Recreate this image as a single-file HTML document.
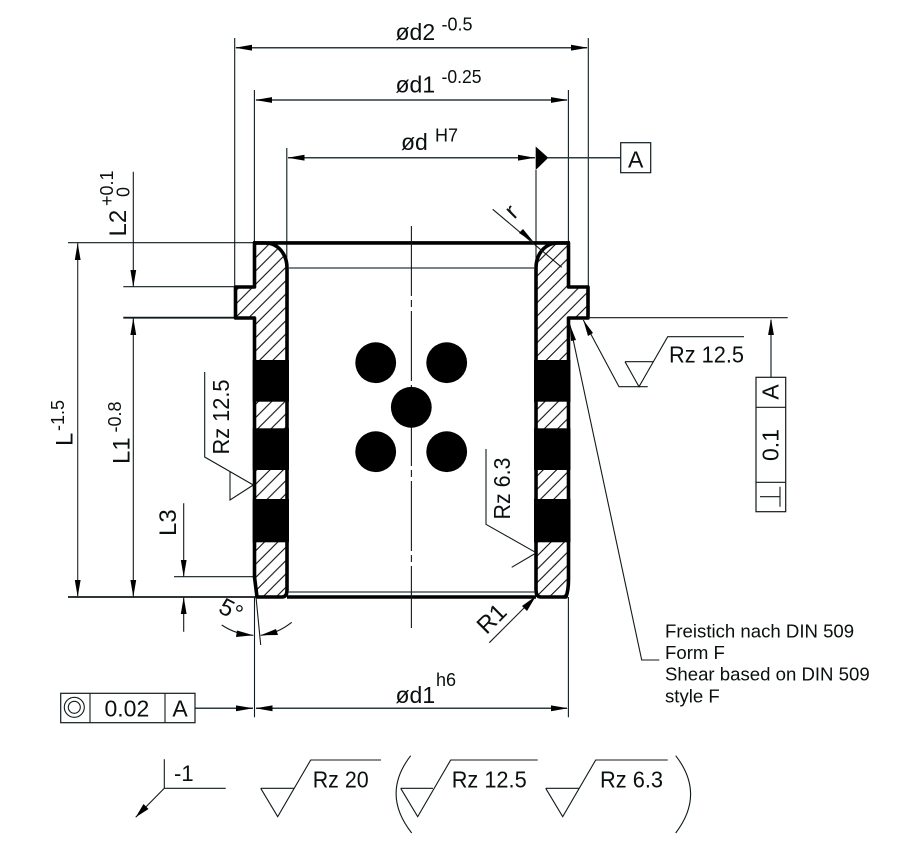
<!DOCTYPE html>
<html><head><meta charset="utf-8"><style>
html,body{margin:0;padding:0;background:#fff;width:906px;height:853px;overflow:hidden}
svg{display:block}
text{font-family:"Liberation Sans",sans-serif;font-size:23px;fill:#0a0f10}
.s{font-size:18px}
.b{font-size:24px}
.t{font-size:18.6px}
.l{stroke:#101a1c;stroke-width:1.1;fill:none}
.d{stroke:#2b3b40;stroke-width:1.5;fill:none}
.h{stroke:#000;stroke-width:3.6;fill:none;stroke-linejoin:round}
.a{fill:#000;stroke:none}
</style></head><body>
<svg width="906" height="853" viewBox="0 0 906 853" xmlns="http://www.w3.org/2000/svg">
<defs>
<pattern id="hl" patternUnits="userSpaceOnUse" width="13.33" height="13.33" patternTransform="translate(6.67,0)"><path d="M-1 14.33L14.33 -1M-1 1L1 -1M12.33 14.33L14.33 12.33" stroke="#000" stroke-width="1"/></pattern>
<pattern id="hr" patternUnits="userSpaceOnUse" width="13.33" height="13.33"><path d="M-1 14.33L14.33 -1M-1 1L1 -1M12.33 14.33L14.33 12.33" stroke="#000" stroke-width="1"/></pattern>
</defs>
<rect width="906" height="853" fill="#fff"/>

<!-- extension lines -->
<path class="l" d="M234.7 38V287M588.3 38V286M254.4 90V243M568.4 90V243M286.8 148V268M536 170V268"/>
<path class="d" d="M236 47.7H587M256 100H567M288 157.7H535"/>
<polygon class="a" points="235,47.7 252,44.8 252,50.6"/><polygon class="a" points="588,47.7 571,44.8 571,50.6"/>
<polygon class="a" points="255,100 272,97.1 272,102.9"/><polygon class="a" points="568,100 551,97.1 551,102.9"/>
<polygon class="a" points="287.5,157.7 304.5,154.8 304.5,160.6"/><polygon class="a" points="535,157.7 518,154.8 518,160.6"/>
<polygon class="a" points="535.7,146.5 548.3,157.7 535.7,170"/>
<path class="d" d="M548 157.7H621"/>
<rect x="620.7" y="142.7" width="30" height="30" fill="#fff" stroke="#101a1c" stroke-width="1.2"/>
<text x="635.7" y="167.3" text-anchor="middle">A</text>

<text x="395.5" y="40">ød2</text><text class="s" x="441.5" y="30.7">-0.5</text>
<text x="395.5" y="92.3">ød1</text><text class="s" x="441.5" y="83" textLength="40" lengthAdjust="spacingAndGlyphs">-0.25</text>
<text x="401" y="150">ød</text><text class="s" x="435" y="141.7">H7</text>

<!-- left horizontal extensions and dims -->
<path class="l" d="M68 242.7H255M123.3 286.7H235M174 576.7H253"/>
<path class="l" d="M123.3 317.7H235M68 597H256" style="stroke-width:1.8"/>
<path class="d" d="M77.7 243V597" style="stroke-width:1.2"/>
<polygon class="a" points="77.7,243 74.8,260 80.6,260"/><polygon class="a" points="77.7,597 74.8,580 80.6,580"/>
<path class="l" d="M133.3 171.7V287M133.3 318V597"/>
<polygon class="a" points="133.3,287 130.4,270 136.2,270"/><polygon class="a" points="133.3,318 130.4,335 136.2,335"/>
<polygon class="a" points="133.3,597 130.4,580 136.2,580"/>
<path class="l" d="M183.7 503.3V577M183.7 597V631.7"/>
<polygon class="a" points="183.7,577 180.8,560 186.6,560"/><polygon class="a" points="183.7,597 180.8,614 186.6,614"/>

<text class="b" transform="translate(126,236.5) rotate(-90)">L2</text>
<text class="s" transform="translate(113,206) rotate(-90)">+0.1</text>
<text class="s" transform="translate(129.5,197) rotate(-90)">0</text>
<text class="b" transform="translate(72.3,446) rotate(-90)">L</text>
<text class="s" transform="translate(64,431) rotate(-90)">-1.5</text>
<text class="b" transform="translate(129.3,464) rotate(-90)">L1</text>
<text class="s" transform="translate(121,432.5) rotate(-90)">-0.8</text>
<text class="b" transform="translate(176,536) rotate(-90)">L3</text>

<!-- section fill -->
<path d="M255 243H265C278 243 287 254 287 268V590Q287 597 282 597H257L254.5 577V318H235.5V287H254.5Z" fill="url(#hl)"/>
<path d="M568.5 243H558C545 243 536 254 536 268V590Q536 597 541 597H568.5Q568.5 590 568.5 580V318H588V287H568.5Z" fill="url(#hr)"/>
<rect x="252.7" y="360" width="36.3" height="41.7" fill="#000"/>
<rect x="252.7" y="428.3" width="36.3" height="41.7" fill="#000"/>
<rect x="252.7" y="499" width="36.3" height="43.3" fill="#000"/>
<rect x="534" y="360" width="36.5" height="41.7" fill="#000"/>
<rect x="534" y="428.3" width="36.5" height="41.7" fill="#000"/>
<rect x="534" y="499" width="36.5" height="43.3" fill="#000"/>
<path class="h" d="M254.5 243H265C278 243 287 254 287 268V590Q287 597 282 597H257L254.5 577V318H235.5V287H254.5Z"/>
<path class="h" d="M568.5 243H558C545 243 536 254 536 268V590Q536 597 541 597H566Q568.5 590 568.5 580V318H588V287H568.5Z"/>
<path class="h" d="M253 242.9H570M287 597H536"/>
<path class="d" d="M288 268H535M288 592H535" style="stroke-width:1.2"/>

<!-- center line + holes -->
<path class="l" d="M411.4 226V628" stroke-dasharray="70 4 7 4"/>
<circle cx="375.7" cy="362.7" r="20.4" fill="#000"/>
<circle cx="446.7" cy="362.7" r="20.4" fill="#000"/>
<circle cx="411.3" cy="407.3" r="20.4" fill="#000"/>
<circle cx="375.7" cy="451.7" r="20.4" fill="#000"/>
<circle cx="446.7" cy="451.7" r="20.4" fill="#000"/>

<!-- r -->
<path class="l" d="M492.7 209.3L561.7 267.3"/>
<polygon class="a" points="534,242.5 519,233 523,229"/>
<text class="b" transform="translate(512,212) rotate(-45)" text-anchor="middle" y="7">r</text>

<!-- left Rz 12.5 -->
<path class="l" d="M204.7 372V457L253.3 485"/>
<path class="l" d="M253.3 485L230 500V471.7"/>
<text transform="translate(229,454.5) rotate(-90)" textLength="75" lengthAdjust="spacingAndGlyphs">Rz 12.5</text>

<!-- Rz 6.3 -->
<path class="l" d="M486 449V524.3L534.3 551.7M534.3 554L511.7 567.3"/>
<text transform="translate(510,519.5) rotate(-90)" textLength="62" lengthAdjust="spacingAndGlyphs">Rz 6.3</text>

<!-- R1 -->
<path class="l" d="M489.3 642.7L536 596"/>
<polygon class="a" points="536,596 527,611 522,606"/>
<text class="b" transform="translate(491,618) rotate(-45)" text-anchor="middle" y="9">R1</text>

<!-- 5 deg -->
<path class="l" d="M254.5 597V717.3M568.4 597V717.3M256 597L260.7 645"/>
<path class="l" d="M221.7 625Q237 635 253.3 635.3M260.7 635.3Q277 634 291.7 622.3"/>
<polygon class="a" points="253.3,635.3 237,630.5 236,637"/>
<polygon class="a" points="260.7,635.3 276,629 278,635"/>
<text class="b" transform="translate(231,610) rotate(28)" text-anchor="middle" y="8">5°</text>

<!-- bottom dim -->
<path class="d" d="M256 708.3H567M195 708.3H253"/>
<polygon class="a" points="253.3,708.3 236,705.4 236,711.2"/>
<polygon class="a" points="255.5,708.3 272.5,705.4 272.5,711.2"/>
<polygon class="a" points="568,708.3 551,705.4 551,711.2"/>
<text x="395.5" y="703">ød1</text><text class="s" x="436" y="686">h6</text>

<!-- FCF box -->
<rect x="60.7" y="693.3" width="134.3" height="29.4" fill="#fff" stroke="#101a1c" stroke-width="1.2"/>
<path class="l" d="M90 693.3V722.7M165 693.3V722.7"/>
<circle cx="74.3" cy="707.3" r="10" class="l"/><circle cx="74.3" cy="707.3" r="6" class="l"/>
<text x="104.5" y="716.7">0.02</text>
<text x="180" y="716.7" text-anchor="middle">A</text>

<!-- right surface & notes -->
<path class="l" d="M588 317.7H787.7"/>
<path class="d" d="M771 320V377" style="stroke-width:1.3"/>
<polygon class="a" points="771,318.5 768.1,335 773.9,335"/>
<rect x="756" y="377.3" width="29.7" height="134.4" fill="#fff" stroke="#101a1c" stroke-width="1.2"/>
<path class="l" d="M756 407.3H785.7M756 482.3H785.7"/>
<text transform="translate(778.3,392) rotate(-90)" text-anchor="middle">A</text>
<text transform="translate(778.3,445) rotate(-90)" text-anchor="middle">0.1</text>
<path class="l" d="M760 496.7H780M780 486.7V506.7"/>

<path class="l" d="M583.3 320L619 386.7H647.7M625 361.7H653.6M625 361.7L639 386.7L667.7 336.7H744"/>
<polygon class="a" points="583.3,320 593,333 588,336"/>
<text x="669" y="362.3" textLength="75" lengthAdjust="spacingAndGlyphs">Rz 12.5</text>
<path class="l" d="M570 325L641.7 660H659.3"/>
<polygon class="a" points="570,325 571,341 576,340"/>
<text class="t" x="665" y="637.3">Freistich nach DIN 509</text>
<text class="t" x="665" y="659">Form F</text>
<text class="t" x="665" y="680.7">Shear based on DIN 509</text>
<text class="t" x="665" y="702.7">style F</text>

<!-- bottom symbols -->
<path class="l" d="M164.3 759.3V788.3H225.7M164.3 788.3L135.7 817.3"/>
<polygon class="a" points="135.7,817.3 143.5,804 148.5,809"/>
<text x="174" y="781" style="font-size:22px">-1</text>

<path class="l" d="M260.7 788.3H294M260.7 788.3L277.7 816.7L310.7 760H381"/>
<text x="312.7" y="787.7" textLength="56" lengthAdjust="spacingAndGlyphs">Rz 20</text>
<path class="l" d="M400.7 788.3H433M400.7 788.3L417.7 816.7L450.7 760H537.7"/>
<text x="451.7" y="787.7" textLength="75" lengthAdjust="spacingAndGlyphs">Rz 12.5</text>
<path class="l" d="M545.7 788.3H578.8M545.7 788.3L562.7 816.7L595.7 760H667.7"/>
<text x="600" y="787.7" textLength="63" lengthAdjust="spacingAndGlyphs">Rz 6.3</text>
<path class="l" d="M410.7 755.7Q381 794 411.7 833M675.7 755.7Q705.5 794 675.7 833"/>
</svg>
</body></html>
